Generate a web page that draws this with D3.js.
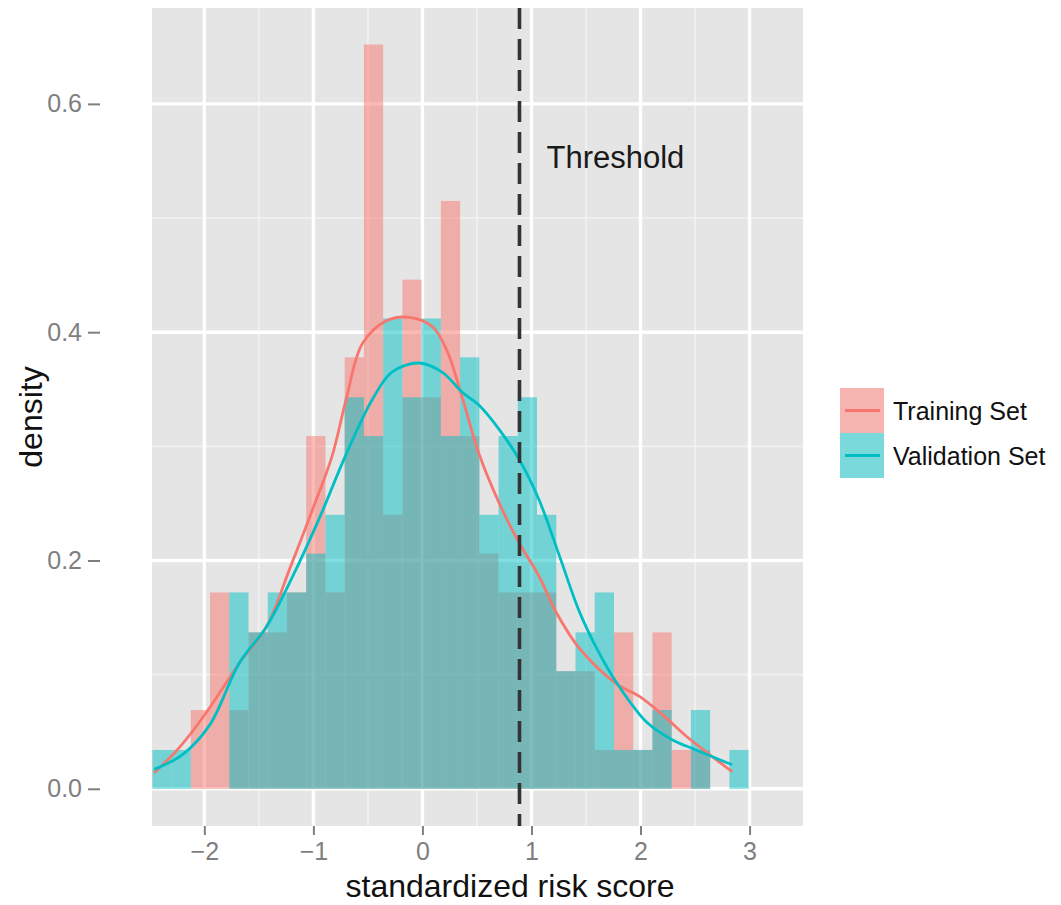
<!DOCTYPE html>
<html>
<head>
<meta charset="utf-8">
<script src="https://cdn.jsdelivr.net/npm/d3@7"></script>
<style>
  body { margin: 0; background: #fff; }
  text { font-family: "Liberation Sans", Arial, sans-serif; }
</style>
</head>
<body>
<svg class="risk-hist"></svg>
<script>
// Canvas size
const width = 1061;
const height = 905;

// Histogram bins (standardized risk score), shared by both sets
const binStart = -2.477;
const binWidth = 0.1764;

// Density of each bin
const trainingDensity = [0, 0, 0.069, 0.172, 0.069, 0.137, 0.137, 0.172, 0.309, 0.172,
  0.378, 0.652, 0.240, 0.446, 0.343, 0.515, 0.309, 0.206, 0.172, 0.172,
  0.172, 0.103, 0.103, 0.034, 0.137, 0.034, 0.137, 0.034, 0.034, 0, 0];
const validationDensity = [0.034, 0.034, 0, 0, 0.172, 0.137, 0.172, 0.172, 0.206, 0.240,
  0.343, 0.309, 0.412, 0.343, 0.412, 0.309, 0.378, 0.240, 0.309, 0.343,
  0.240, 0.103, 0.137, 0.172, 0.034, 0.034, 0.069, 0, 0.069, 0, 0.034];

// Smoothed density curves, [score, density]
const trainingCurve = [[-2.46, 0.014], [-2.23, 0.036], [-1.98, 0.067], [-1.68, 0.110], [-1.43, 0.142],
  [-1.22, 0.192], [-1.01, 0.244], [-0.83, 0.291], [-0.70, 0.341], [-0.55, 0.390], [-0.33, 0.410],
  [-0.12, 0.413], [0.09, 0.405], [0.22, 0.385], [0.37, 0.341], [0.52, 0.293], [0.71, 0.249],
  [0.89, 0.215], [1.07, 0.186], [1.23, 0.154], [1.44, 0.123], [1.78, 0.092], [1.99, 0.081],
  [2.20, 0.065], [2.42, 0.046], [2.66, 0.028], [2.84, 0.015]];
const validationCurve = [[-2.46, 0.017], [-2.20, 0.030], [-1.95, 0.056], [-1.68, 0.110], [-1.43, 0.142],
  [-1.19, 0.186], [-0.95, 0.236], [-0.70, 0.293], [-0.46, 0.341], [-0.28, 0.365], [-0.03, 0.373],
  [0.18, 0.365], [0.37, 0.347], [0.52, 0.336], [0.71, 0.314], [0.89, 0.288], [1.07, 0.253],
  [1.26, 0.203], [1.44, 0.155], [1.62, 0.119], [1.78, 0.093], [2.06, 0.058], [2.29, 0.043],
  [2.51, 0.034], [2.84, 0.021]];

const threshold = 0.89;

// Axis ticks and legend
const xTicks = [-2, -1, 0, 1, 2, 3];
const xMinor = [-1.5, -0.5, 0.5, 1.5, 2.5];
const yTicks = [0, 0.2, 0.4, 0.6];
const yMinor = [0.1, 0.3, 0.5];
const seriesNames = ["Training Set", "Validation Set"];
const seriesColors = ["#F8766D", "#00BFC4"];

// Panel box
const panel = { left: 152, right: 803, top: 8, bottom: 826 };

const x = d3.scaleLinear().domain([-2.48, 3.49]).range([panel.left, panel.right]);
const y = d3.scaleLinear().domain([-0.0326, 0.684]).range([panel.bottom, panel.top]);

const svg = d3.select(".risk-hist")
  .attr("width", width)
  .attr("height", height);

// Grey panel with grid
svg.append("rect")
  .attr("x", panel.left).attr("y", panel.top)
  .attr("width", panel.right - panel.left).attr("height", panel.bottom - panel.top)
  .attr("fill", "#E5E5E5");

svg.selectAll(".minor-x").data(xMinor).enter().append("line")
  .attr("x1", d => x(d)).attr("x2", d => x(d))
  .attr("y1", panel.top).attr("y2", panel.bottom)
  .attr("stroke", "#F2F2F2").attr("stroke-width", 1.6);
svg.selectAll(".minor-y").data(yMinor).enter().append("line")
  .attr("x1", panel.left).attr("x2", panel.right)
  .attr("y1", d => y(d)).attr("y2", d => y(d))
  .attr("stroke", "#F2F2F2").attr("stroke-width", 1.6);
svg.selectAll(".major-x").data(xTicks).enter().append("line")
  .attr("x1", d => x(d)).attr("x2", d => x(d))
  .attr("y1", panel.top).attr("y2", panel.bottom)
  .attr("stroke", "#fff").attr("stroke-width", 3.4);
svg.selectAll(".major-y").data(yTicks).enter().append("line")
  .attr("x1", panel.left).attr("x2", panel.right)
  .attr("y1", d => y(d)).attr("y2", d => y(d))
  .attr("stroke", "#fff").attr("stroke-width", 3.4);

// Histogram bars, training first so validation sits on top
function drawBars(values, color) {
  svg.append("g")
    .selectAll("rect")
    .data(values.map((v, i) => ({ x0: binStart + i * binWidth, x1: binStart + (i + 1) * binWidth, v })).filter(d => d.v > 0))
    .enter()
    .append("rect")
    .attr("x", d => x(d.x0))
    .attr("width", d => x(d.x1) - x(d.x0))
    .attr("y", d => y(d.v))
    .attr("height", d => y(0) - y(d.v))
    .attr("fill", color)
    .attr("fill-opacity", 0.5);
}
drawBars(trainingDensity, seriesColors[0]);
drawBars(validationDensity, seriesColors[1]);

// Density lines
const line = d3.line()
  .x(d => x(d[0]))
  .y(d => y(d[1]))
  .curve(d3.curveCatmullRom.alpha(0.5));

[trainingCurve, validationCurve].forEach((pts, i) => {
  svg.append("path")
    .datum(pts)
    .attr("d", line)
    .attr("fill", "none")
    .attr("stroke", seriesColors[i])
    .attr("stroke-width", 2.8);
});

// Threshold
svg.append("line")
  .attr("x1", x(threshold)).attr("x2", x(threshold))
  .attr("y1", panel.top).attr("y2", panel.bottom)
  .attr("stroke", "#333")
  .attr("stroke-width", 3.6)
  .attr("stroke-dasharray", "21,10");

svg.append("text")
  .attr("x", x(1.77)).attr("y", y(0.553))
  .attr("text-anchor", "middle")
  .attr("dominant-baseline", "central")
  .attr("font-size", 31)
  .attr("fill", "#1a1a1a")
  .text("Threshold");

// Axes
const xAxis = svg.append("g")
  .attr("transform", `translate(0,${panel.bottom})`)
  .call(d3.axisBottom(x).tickValues(xTicks).tickFormat(d3.format("d")).tickSize(9).tickPadding(7));
const yAxis = svg.append("g")
  .attr("transform", "translate(100,0)")
  .call(d3.axisLeft(y).tickValues(yTicks).tickFormat(d3.format(".1f")).tickSize(12).tickPadding(6));

[xAxis, yAxis].forEach(g => {
  g.select(".domain").remove();
  g.selectAll(".tick line").attr("stroke", "#7F7F7F").attr("stroke-width", 2);
  g.selectAll(".tick text")
    .attr("fill", "#7F7F7F")
    .attr("font-size", 25)
    .attr("font-family", "Liberation Sans, Arial, sans-serif");
});

// Axis titles
svg.append("text")
  .attr("x", 510).attr("y", 897)
  .attr("text-anchor", "middle")
  .attr("font-size", 32)
  .attr("fill", "#111")
  .text("standardized risk score");

svg.append("text")
  .attr("transform", `translate(42,${(panel.top + panel.bottom) / 2}) rotate(-90)`)
  .attr("text-anchor", "middle")
  .attr("font-size", 32)
  .attr("fill", "#111")
  .text("density");

// Legend
const legend = svg.append("g").attr("transform", "translate(840,388)");
seriesNames.forEach((name, i) => {
  const row = legend.append("g").attr("transform", `translate(0,${i * 45})`);
  row.append("rect")
    .attr("width", 44).attr("height", 45)
    .attr("fill", "#F2F2F2");
  row.append("rect")
    .attr("width", 44).attr("height", 45)
    .attr("fill", seriesColors[i])
    .attr("fill-opacity", 0.5);
  row.append("line")
    .attr("x1", 5).attr("x2", 40)
    .attr("y1", 22.5).attr("y2", 22.5)
    .attr("stroke", seriesColors[i])
    .attr("stroke-width", 2.8);
  row.append("text")
    .attr("x", 53).attr("y", 23)
    .attr("dominant-baseline", "central")
    .attr("font-size", 25)
    .attr("fill", "#111")
    .text(name);
});
</script>
</body>
</html>
